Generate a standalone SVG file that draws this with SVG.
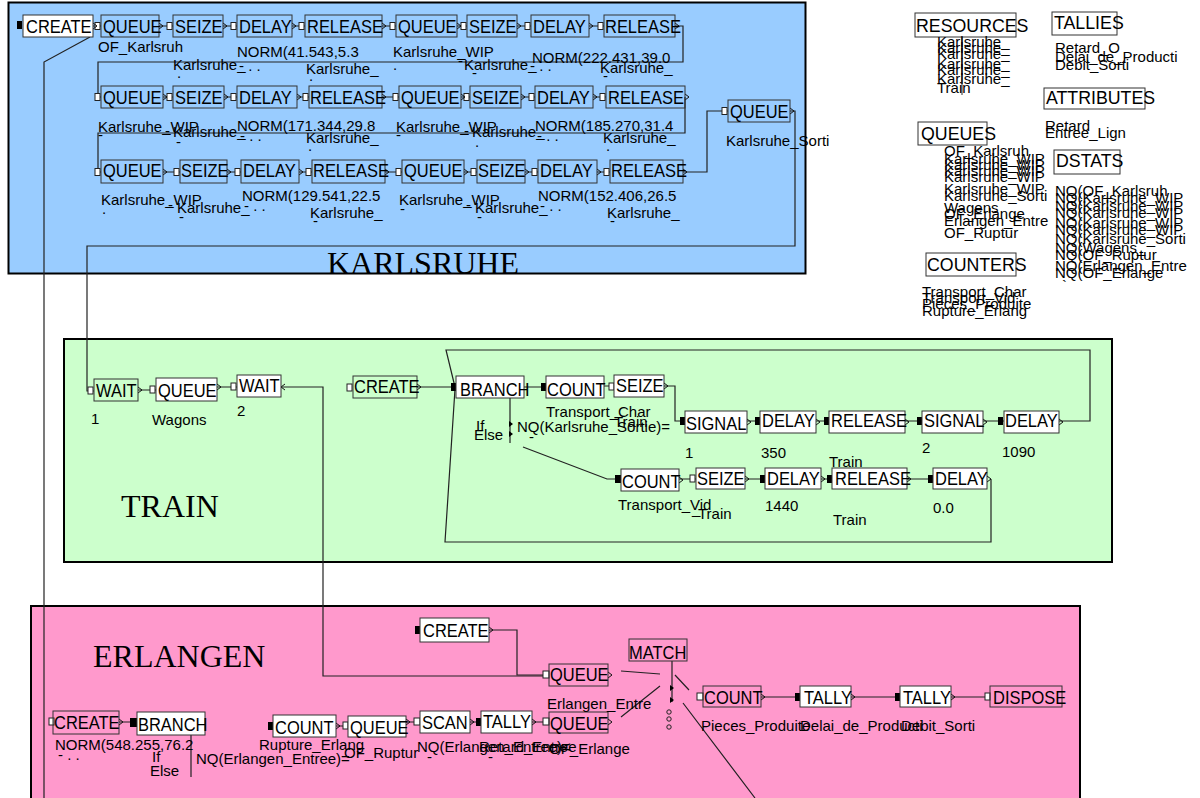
<svg xmlns="http://www.w3.org/2000/svg" width="1200" height="798" viewBox="0 0 1200 798">
<style>
.t{font-family:"Liberation Sans",Arial,sans-serif;font-size:18.5px;fill:#000}
.l{font-family:"Liberation Sans",Arial,sans-serif;font-size:15px;fill:#000}
.big{font-family:"Liberation Serif","Times New Roman",serif;font-size:32px;fill:#000}
.n{fill:none;stroke:#333;stroke-width:1}
.w{fill:#fff;stroke:#333;stroke-width:1}
.c{fill:none;stroke:#222;stroke-width:1.2}
.po{fill:#fff;stroke:#222;stroke-width:1}
.pf{fill:#000}
.ex{fill:none;stroke:#111;stroke-width:1}
.reg{stroke:#000;stroke-width:2}
</style>
<rect width="1200" height="798" fill="#fff"/>
<g id="regions">
<rect class="reg" x="8.5" y="2.5" width="797" height="271" fill="#99CCFF"/>
<rect class="reg" x="64" y="339" width="1048" height="223" fill="#CCFFCC"/>
<rect class="reg" x="31" y="606" width="1049" height="200" fill="#FF99CC"/>
<text class="big" x="327" y="274">KARLSRUHE</text>
<text class="big" x="121" y="517">TRAIN</text>
<text class="big" x="93" y="667">ERLANGEN</text>
</g>
<g id="connectors">
<polyline class="c" points="90,37 44,62 44,798"/>
<path class="c" d="M93,26H101M159,26H173M223,26H237M292,26H305M382,26H396M457,26H467M517,26H531M589,26H604"/>
<polyline class="c" points="675,26 683,26 683,62 98,62 98,97 101,97"/>
<path class="c" d="M163,97H173M224,97H237M297,97H309M382,97H399M461,97H470M521,97H535M593,97H606"/>
<polyline class="c" points="685,97 685,133 98,133 98,172 101,172"/>
<path class="c" d="M163,172H180M227,172H241M299,172H312M385,172H402M464,172H477M525,172H538M597,172H610"/>
<polyline class="c" points="683,172 707,172 707,111 728,111"/>
<polyline class="c" points="790,111 795,111 795,246 87,246 87,391 94,391"/>
<path class="c" d="M138,390H156M217,387H237"/>
<polyline class="c" points="281,387 323,387 323,676 549,676"/>
<path class="c" d="M417,387H456"/>
<polyline class="c" points="455,387 446,350 1090,350 1090,421 1059,421"/>
<polyline class="c" points="455,389 445,542 991,542 991,479"/>
<path class="c" d="M524,387H546M604,386H614"/>
<polyline class="c" points="664,386 675,386 675,421 685,421"/>
<path class="c" d="M747,421H760M816,421H829M905,421H922M983,421H1004"/>
<path class="c" d="M510,398V443M523,447L607,479H621"/>
<path class="c" d="M679,479H696M745,479H765M821,479H832M907,479H933"/>
<polyline class="c" points="489,630 517,630 517,675 549,675"/>
<path class="c" d="M621,671L660,674M621,717L660,686M672,661V702M675,675L689,690M683,703L755,798"/>
<path class="c" d="M761,697H800M851,697H900M951,697H990"/>
<path class="c" d="M119,722H137M191,735V777M336,726H348M406,722H420M470,722H481M532,722H549"/>
</g>
<g id="ports">
<rect class="pf" x="17" y="21" width="5" height="8"/>
<rect class="po" x="95" y="22.5" width="5" height="7"/><rect class="po" x="167" y="22.5" width="5" height="7"/><rect class="po" x="231" y="22.5" width="5" height="7"/><rect class="po" x="299" y="22.5" width="5" height="7"/><rect class="po" x="390" y="22.5" width="5" height="7"/><rect class="po" x="461" y="22.5" width="5" height="7"/><rect class="po" x="525" y="22.5" width="5" height="7"/><rect class="po" x="598" y="22.5" width="5" height="7"/>
<rect class="po" x="95" y="93.5" width="5" height="7"/><rect class="po" x="167" y="93.5" width="5" height="7"/><rect class="po" x="231" y="93.5" width="5" height="7"/><rect class="po" x="303" y="93.5" width="5" height="7"/><rect class="po" x="393" y="93.5" width="5" height="7"/><rect class="po" x="464" y="93.5" width="5" height="7"/><rect class="po" x="529" y="93.5" width="5" height="7"/><rect class="po" x="600" y="93.5" width="5" height="7"/>
<rect class="po" x="95" y="168.5" width="5" height="7"/><rect class="po" x="174" y="168.5" width="5" height="7"/><rect class="po" x="235" y="168.5" width="5" height="7"/><rect class="po" x="306" y="168.5" width="5" height="7"/><rect class="po" x="396" y="168.5" width="5" height="7"/><rect class="po" x="471" y="168.5" width="5" height="7"/><rect class="po" x="532" y="168.5" width="5" height="7"/><rect class="po" x="604" y="168.5" width="5" height="7"/>
<rect class="po" x="722" y="107.5" width="5" height="7"/>
<rect class="po" x="88" y="387" width="5" height="7"/><rect class="po" x="150" y="386" width="5" height="7"/><rect class="po" x="231" y="383" width="5" height="7"/><rect class="po" x="347" y="384" width="5" height="7"/>
<rect class="pf" x="451" y="383" width="5" height="8"/><rect class="pf" x="541" y="383" width="5" height="8"/><rect class="po" x="609" y="383" width="5" height="7"/>
<rect class="pf" x="680" y="417" width="5" height="8"/><rect class="pf" x="755" y="417" width="5" height="8"/><rect class="pf" x="824" y="417" width="5" height="8"/><rect class="pf" x="917" y="417" width="5" height="8"/><rect class="pf" x="998" y="417" width="5" height="8"/>
<rect class="pf" x="615" y="475" width="6" height="8"/><rect class="po" x="690" y="475" width="5" height="7"/><rect class="pf" x="760" y="475" width="5" height="8"/><rect class="pf" x="827" y="475" width="5" height="8"/><rect class="pf" x="928" y="475" width="5" height="8"/>
<rect class="pf" x="415" y="626" width="5" height="8"/><rect class="po" x="543" y="671" width="6" height="7"/><rect class="po" x="697" y="693" width="6" height="7"/><rect class="pf" x="795" y="693" width="5" height="8"/><rect class="pf" x="895" y="693" width="5" height="8"/><rect class="po" x="985" y="693" width="5" height="7"/>
<rect class="po" x="49" y="718" width="5" height="7"/><rect class="pf" x="130" y="718" width="7" height="9"/><rect class="pf" x="268" y="722" width="5" height="8"/><rect class="po" x="343" y="722" width="5" height="7"/><rect class="po" x="414" y="718" width="6" height="7"/><rect class="pf" x="476" y="718" width="5" height="8"/><rect class="po" x="543" y="718" width="6" height="7"/>
<path d="M509,421l4,3l-4,3zM509,431l4,3l-4,3zM670,685l4,3l-4,3zM670,697l4,3l-4,3z" fill="#000"/>
<circle cx="669" cy="712" r="2.2" fill="none" stroke="#222"/><circle cx="669" cy="719" r="2.2" fill="none" stroke="#222"/><circle cx="669" cy="727" r="2.2" fill="none" stroke="#222"/>
<path class="ex" d="M93,23l4,3l-4,3M159,23l4,3l-4,3M223,23l4,3l-4,3M292,23l4,3l-4,3M382,23l4,3l-4,3M457,23l4,3l-4,3M517,23l4,3l-4,3M589,23l4,3l-4,3M675,23l4,3l-4,3M163,94l4,3l-4,3M224,94l4,3l-4,3M297,94l4,3l-4,3M382,94l4,3l-4,3M461,94l4,3l-4,3M521,94l4,3l-4,3M593,94l4,3l-4,3M685,94l4,3l-4,3M163,169l4,3l-4,3M227,169l4,3l-4,3M299,169l4,3l-4,3M385,169l4,3l-4,3M464,169l4,3l-4,3M525,169l4,3l-4,3M597,169l4,3l-4,3M683,169l4,3l-4,3M790,108l4,3l-4,3M138,387l4,3l-4,3M217,384l4,3l-4,3M285,384l-4,3l4,3M417,384l4,3l-4,3M664,383l4,3l-4,3M747,419l4,3l-4,3M816,419l4,3l-4,3M905,419l4,3l-4,3M983,419l4,3l-4,3M1059,419l4,3l-4,3M679,477l4,3l-4,3M745,476l4,3l-4,3M821,476l4,3l-4,3M907,476l4,3l-4,3M987,476l4,3l-4,3M489,627l4,3l-4,3M608,672l4,3l-4,3M761,694l4,3l-4,3M851,694l4,3l-4,3M951,694l4,3l-4,3M119,719l4,3l-4,3M336,723l4,3l-4,3M406,719l4,3l-4,3M470,719l4,3l-4,3M532,719l4,3l-4,3M608,719l4,3l-4,3"/>
</g>
<g id="karlsruhe">
<g id="k_create"><rect class="w" x="23" y="15" width="70" height="22"/><text class="t" transform="translate(26,32.5) scale(0.89,1)">CREATE</text></g>
<g id="k_queue1"><rect class="n" x="101" y="15" width="58" height="22"/><text class="t" transform="translate(103,32.5) scale(0.89,1)">QUEUE</text></g>
<g id="k_seize1"><rect class="n" x="173" y="15" width="50" height="22"/><text class="t" transform="translate(175,32.5) scale(0.89,1)">SEIZE</text></g>
<g id="k_delay1"><rect class="n" x="237" y="15" width="55" height="22"/><text class="t" transform="translate(239,32.5) scale(0.89,1)">DELAY</text></g>
<g id="k_release1"><rect class="n" x="305" y="15" width="77" height="22"/><text class="t" transform="translate(307,32.5) scale(0.89,1)">RELEASE</text></g>
<g id="k_queue2"><rect class="n" x="396" y="15" width="61" height="22"/><text class="t" transform="translate(398,32.5) scale(0.89,1)">QUEUE</text></g>
<g id="k_seize2"><rect class="n" x="467" y="15" width="50" height="22"/><text class="t" transform="translate(469,32.5) scale(0.89,1)">SEIZE</text></g>
<g id="k_delay2"><rect class="n" x="531" y="15" width="58" height="22"/><text class="t" transform="translate(533,32.5) scale(0.89,1)">DELAY</text></g>
<g id="k_release2"><rect class="n" x="604" y="15" width="71" height="22"/><text class="t" transform="translate(605,32.5) scale(0.89,1)">RELEASE</text></g>
<g id="k_queue3"><rect class="n" x="101" y="86" width="62" height="22"/><text class="t" transform="translate(103,103.5) scale(0.89,1)">QUEUE</text></g>
<g id="k_seize3"><rect class="n" x="173" y="86" width="51" height="22"/><text class="t" transform="translate(175,103.5) scale(0.89,1)">SEIZE</text></g>
<g id="k_delay3"><rect class="n" x="237" y="86" width="60" height="22"/><text class="t" transform="translate(239,103.5) scale(0.89,1)">DELAY</text></g>
<g id="k_release3"><rect class="n" x="309" y="86" width="73" height="22"/><text class="t" transform="translate(310,103.5) scale(0.89,1)">RELEASE</text></g>
<g id="k_queue4"><rect class="n" x="399" y="86" width="62" height="22"/><text class="t" transform="translate(401,103.5) scale(0.89,1)">QUEUE</text></g>
<g id="k_seize4"><rect class="n" x="470" y="86" width="51" height="22"/><text class="t" transform="translate(472,103.5) scale(0.89,1)">SEIZE</text></g>
<g id="k_delay4"><rect class="n" x="535" y="86" width="58" height="22"/><text class="t" transform="translate(537,103.5) scale(0.89,1)">DELAY</text></g>
<g id="k_release4"><rect class="n" x="606" y="86" width="79" height="22"/><text class="t" transform="translate(608,103.5) scale(0.89,1)">RELEASE</text></g>
<g id="k_queue5"><rect class="n" x="101" y="160" width="62" height="23"/><text class="t" transform="translate(103,177) scale(0.89,1)">QUEUE</text></g>
<g id="k_seize5"><rect class="n" x="180" y="160" width="47" height="23"/><text class="t" transform="translate(181,177) scale(0.89,1)">SEIZE</text></g>
<g id="k_delay5"><rect class="n" x="241" y="160" width="58" height="23"/><text class="t" transform="translate(243,177) scale(0.89,1)">DELAY</text></g>
<g id="k_release5"><rect class="n" x="312" y="160" width="73" height="23"/><text class="t" transform="translate(313,177) scale(0.89,1)">RELEASE</text></g>
<g id="k_queue6"><rect class="n" x="402" y="160" width="62" height="23"/><text class="t" transform="translate(404,177) scale(0.89,1)">QUEUE</text></g>
<g id="k_seize6"><rect class="n" x="477" y="160" width="48" height="23"/><text class="t" transform="translate(478,177) scale(0.89,1)">SEIZE</text></g>
<g id="k_delay6"><rect class="n" x="538" y="160" width="59" height="23"/><text class="t" transform="translate(540,177) scale(0.89,1)">DELAY</text></g>
<g id="k_release6"><rect class="n" x="610" y="160" width="73" height="23"/><text class="t" transform="translate(611,177) scale(0.89,1)">RELEASE</text></g>
<g id="k_sorti"><rect class="n" x="728" y="100" width="62" height="22"/><text class="t" transform="translate(730,117.5) scale(0.89,1)">QUEUE</text></g>
</g>
<g id="karlsruhe_labels">
<text class="l" x="98" y="52">OF_Karlsruh</text>
<text class="l" x="173" y="70">Karlsruhe_</text><text class="l" x="177" y="78">.</text>
<text class="l" x="237" y="57">NORM(41.543,5.3</text><text class="l" x="239" y="71">- . .</text>
<text class="l" x="306" y="74">Karlsruhe_</text><text class="l" x="309" y="81">.</text>
<text class="l" x="393" y="57">Karlsruhe_WIP</text><text class="l" x="393" y="70">.</text>
<text class="l" x="458" y="66">-</text><text class="l" x="464" y="70">Karlsruhe_</text><text class="l" x="472" y="78">-</text><text class="l" x="530" y="71">- . .</text>
<text class="l" x="532" y="63">NORM(222.431,39.0</text>
<text class="l" x="600" y="73">Karlsruhe_</text><text class="l" x="603" y="81">-</text>
<text class="l" x="98" y="132">Karlsruhe_WIP</text><text class="l" x="98" y="140">-</text>
<text class="l" x="165" y="136">-</text><text class="l" x="173" y="137">Karlsruhe_</text><text class="l" x="176" y="147">-</text>
<text class="l" x="237" y="131">NORM(171.344,29.8</text><text class="l" x="240" y="141">- . .</text>
<text class="l" x="306" y="143">Karlsruhe_</text><text class="l" x="308" y="151">.</text>
<text class="l" x="396" y="132">Karlsruhe_WIP</text><text class="l" x="396" y="140">-</text>
<text class="l" x="464" y="136">-</text><text class="l" x="472" y="137">Karlsruhe_</text><text class="l" x="475" y="147">.</text>
<text class="l" x="535" y="131">NORM(185.270,31.4</text><text class="l" x="537" y="141">- . .</text>
<text class="l" x="603" y="143">Karlsruhe_</text><text class="l" x="606" y="151">.</text>
<text class="l" x="101" y="205">Karlsruhe_WIP</text><text class="l" x="102" y="214">.</text>
<text class="l" x="168" y="210">-</text><text class="l" x="177" y="213">Karlsruhe_</text><text class="l" x="179" y="222">-</text>
<text class="l" x="242" y="201">NORM(129.541,22.5</text><text class="l" x="244" y="211">- . .</text>
<text class="l" x="310" y="218">Karlsruhe_</text><text class="l" x="313" y="226">-</text>
<text class="l" x="399" y="205">Karlsruhe_WIP</text><text class="l" x="400" y="214">-</text>
<text class="l" x="466" y="210">-</text><text class="l" x="475" y="213">Karlsruhe_</text><text class="l" x="477" y="222">-</text>
<text class="l" x="538" y="201">NORM(152.406,26.5</text><text class="l" x="540" y="211">- . .</text>
<text class="l" x="607" y="218">Karlsruhe_</text><text class="l" x="610" y="226">-</text>
<text class="l" x="726" y="146">Karlsruhe_Sorti</text>
</g>
<g id="lists">
<g id="resources"><rect class="n" x="915" y="13" width="101" height="24"/><text class="t" transform="translate(916,32) scale(0.96,1)">RESOURCES</text>
<line x1="962" y1="37" x2="962" y2="95" stroke="#333"/>
<text class="l" x="937" y="47">Karlsruhe_</text><text class="l" x="937" y="53">Karlsruhe_</text><text class="l" x="937" y="59">Karlsruhe_</text><text class="l" x="937" y="69">Karlsruhe_</text><text class="l" x="937" y="75">Karlsruhe_</text><text class="l" x="937" y="84">Karlsruhe_</text><text class="l" x="937" y="93">Train</text></g>
<g id="tallies"><rect class="n" x="1052" y="12" width="65" height="23"/><text class="t" transform="translate(1054,29) scale(0.96,1)">TALLIES</text>
<text class="l" x="1055" y="53">Retard_O</text><text class="l" x="1055" y="62">Delai_de_Producti</text><text class="l" x="1055" y="70">Debit_Sorti</text></g>
<g id="attributes"><rect class="n" x="1044" y="88" width="101" height="21"/><text class="t" transform="translate(1046,104) scale(0.96,1)">ATTRIBUTES</text>
<text class="l" x="1045" y="131">Retard</text><text class="l" x="1045" y="138">Entree_Lign</text></g>
<g id="queues"><rect class="n" x="918" y="122" width="69" height="23"/><text class="t" transform="translate(921,140) scale(0.96,1)">QUEUES</text>
<text class="l" x="944" y="156">OF_Karlsruh</text><text class="l" x="944" y="164">Karlsruhe_WIP</text><text class="l" x="944" y="170">Karlsruhe_WIP</text><text class="l" x="944" y="176">Karlsruhe_WIP</text><text class="l" x="944" y="182">Karlsruhe_WIP</text><text class="l" x="944" y="194">Karlsruhe_WIP</text><text class="l" x="944" y="201">Karlsruhe_Sorti</text><text class="l" x="944" y="213">Wagens</text><text class="l" x="944" y="219">OF_Erlange</text><text class="l" x="944" y="226">Erlangen_Entre</text><text class="l" x="944" y="238">OF_Ruptur</text></g>
<g id="dstats"><rect class="n" x="1054" y="150" width="66" height="24"/><text class="t" transform="translate(1056,167) scale(0.96,1)">DSTATS</text>
<text class="l" x="1055" y="196">NQ(OF_Karlsruh</text><text class="l" x="1055" y="203">NQ(Karlsruhe_WIP</text><text class="l" x="1055" y="211">NQ(Karlsruhe_WIP</text><text class="l" x="1055" y="218">NQ(Karlsruhe_WIP</text><text class="l" x="1055" y="228">NQ(Karlsruhe_WIP</text><text class="l" x="1055" y="235">NQ(Karlsruhe_WIP</text><text class="l" x="1055" y="244">NQ(Karlsruhe_Sorti</text><text class="l" x="1055" y="253">NQ(Wagens_</text><text class="l" x="1055" y="260">NQ(OF_Ruptur</text><text class="l" x="1055" y="271">NQ(Erlangen_Entre</text><text class="l" x="1055" y="278">NQ(OF_Erlange</text><text class="l" x="1062" y="291">`</text></g>
<g id="counters"><rect class="n" x="926" y="253" width="90" height="23"/><text class="t" transform="translate(927,271) scale(0.96,1)">COUNTERS</text>
<text class="l" x="922" y="297">Transport_Char</text><text class="l" x="922" y="303">Transport_Vid</text><text class="l" x="922" y="309">Pieces_Produite</text><text class="l" x="922" y="316">Rupture_Erlang</text></g>
</g>
<g id="train">
<g id="t_wait1"><rect class="n" x="94" y="379" width="44" height="22"/><text class="t" transform="translate(96,397) scale(0.89,1)">WAIT</text></g>
<g id="t_queue"><rect class="w" x="156" y="378" width="61" height="23"/><text class="t" transform="translate(158,397) scale(0.89,1)">QUEUE</text></g>
<g id="t_wait2"><rect class="w" x="237" y="375" width="44" height="22"/><text class="t" transform="translate(239,392) scale(0.89,1)">WAIT</text></g>
<g id="t_create"><rect class="n" x="353" y="376" width="64" height="22"/><text class="t" transform="translate(354,393) scale(0.89,1)">CREATE</text></g>
<g id="t_branch"><rect class="w" x="456" y="376" width="68" height="22"/><text class="t" transform="translate(460,396) scale(0.89,1)">BRANCH</text></g>
<g id="t_count1"><rect class="w" x="546" y="376" width="58" height="22"/><text class="t" transform="translate(547,396) scale(0.89,1)">COUNT</text></g>
<g id="t_seize1"><rect class="w" x="614" y="375" width="50" height="22"/><text class="t" transform="translate(616,392) scale(0.89,1)">SEIZE</text></g>
<g id="t_signal1"><rect class="w" x="685" y="411" width="62" height="22"/><text class="t" transform="translate(686,430) scale(0.89,1)">SIGNAL</text></g>
<g id="t_delay1"><rect class="w" x="760" y="411" width="56" height="22"/><text class="t" transform="translate(762,427) scale(0.89,1)">DELAY</text></g>
<g id="t_release1"><rect class="w" x="829" y="411" width="76" height="22"/><text class="t" transform="translate(831,427) scale(0.89,1)">RELEASE</text></g>
<g id="t_signal2"><rect class="w" x="922" y="411" width="61" height="22"/><text class="t" transform="translate(924,427) scale(0.89,1)">SIGNAL</text></g>
<g id="t_delay2"><rect class="w" x="1004" y="411" width="55" height="22"/><text class="t" transform="translate(1005,427) scale(0.89,1)">DELAY</text></g>
<g id="t_count2"><rect class="w" x="621" y="469" width="58" height="22"/><text class="t" transform="translate(622,488) scale(0.89,1)">COUNT</text></g>
<g id="t_seize2"><rect class="w" x="696" y="468" width="49" height="21"/><text class="t" transform="translate(697,485) scale(0.89,1)">SEIZE</text></g>
<g id="t_delay3"><rect class="w" x="765" y="468" width="56" height="21"/><text class="t" transform="translate(767,485) scale(0.89,1)">DELAY</text></g>
<g id="t_release2"><rect class="w" x="832" y="468" width="75" height="21"/><text class="t" transform="translate(835,485) scale(0.89,1)">RELEASE</text></g>
<g id="t_delay4"><rect class="w" x="933" y="468" width="54" height="21"/><text class="t" transform="translate(935,485) scale(0.89,1)">DELAY</text></g>
</g>
<g id="train_labels">
<text class="l" x="91" y="424">1</text><text class="l" x="152" y="425">Wagons</text><text class="l" x="237" y="416">2</text>
<text class="l" x="546" y="417">Transport_Char</text><text class="l" x="614" y="427">Train</text>
<text class="l" x="476" y="431">If</text><text class="l" x="474" y="440">Else</text>
<text class="l" x="517" y="432">NQ(Karlsruhe_Sortie)=</text><text class="l" x="529" y="442">-</text>
<text class="l" x="685" y="458">1</text><text class="l" x="761" y="458">350</text><text class="l" x="829" y="467">Train</text><text class="l" x="922" y="453">2</text><text class="l" x="1002" y="457">1090</text>
<text class="l" x="618" y="510">Transport_Vid</text><text class="l" x="692" y="514">_</text><text class="l" x="698" y="519">Train</text><text class="l" x="765" y="511">1440</text><text class="l" x="833" y="525">Train</text><text class="l" x="933" y="513">0.0</text>
</g>
<g id="erlangen">
<g id="e_create1"><rect class="w" x="420" y="618" width="69" height="24"/><text class="t" transform="translate(423,637) scale(0.89,1)">CREATE</text></g>
<g id="e_queue1"><rect class="n" x="549" y="664" width="59" height="22"/><text class="t" transform="translate(550,681) scale(0.89,1)">QUEUE</text></g>
<g id="e_match"><rect class="n" x="629" y="639" width="58" height="22"/><text class="t" transform="translate(629,659) scale(0.89,1)">MATCH</text></g>
<g id="e_count"><rect class="n" x="703" y="686" width="58" height="21"/><text class="t" transform="translate(704,704) scale(0.89,1)">COUNT</text></g>
<g id="e_tally1"><rect class="w" x="800" y="686" width="51" height="21"/><text class="t" transform="translate(804,704) scale(0.89,1)">TALLY</text></g>
<g id="e_tally2"><rect class="w" x="900" y="686" width="51" height="21"/><text class="t" transform="translate(903,704) scale(0.89,1)">TALLY</text></g>
<g id="e_dispose"><rect class="n" x="990" y="686" width="72" height="21"/><text class="t" transform="translate(993,704) scale(0.89,1)">DISPOSE</text></g>
<g id="e_create2"><rect class="n" x="53" y="711" width="66" height="23"/><text class="t" transform="translate(54,729) scale(0.89,1)">CREATE</text></g>
<g id="e_branch"><rect class="w" x="137" y="712" width="68" height="23"/><text class="t" transform="translate(138,731) scale(0.89,1)">BRANCH</text></g>
<g id="e_count2"><rect class="w" x="273" y="715" width="63" height="22"/><text class="t" transform="translate(275,734) scale(0.89,1)">COUNT</text></g>
<g id="e_queue2"><rect class="w" x="348" y="716" width="58" height="21"/><text class="t" transform="translate(350,734) scale(0.89,1)">QUEUE</text></g>
<g id="e_scan"><rect class="w" x="420" y="711" width="50" height="22"/><text class="t" transform="translate(422,729) scale(0.89,1)">SCAN</text></g>
<g id="e_tally3"><rect class="w" x="481" y="711" width="51" height="22"/><text class="t" transform="translate(483,728) scale(0.89,1)">TALLY</text></g>
<g id="e_queue3"><rect class="n" x="549" y="712" width="59" height="21"/><text class="t" transform="translate(550,730) scale(0.89,1)">QUEUE</text></g>
</g>
<g id="erlangen_labels">
<text class="l" x="547" y="709">Erlangen_Entre</text><text class="l" x="549" y="754">OF_Erlange</text>
<text class="l" x="701" y="731">Pieces_Produite</text><text class="l" x="800" y="731">Delai_de_Producti</text><text class="l" x="901" y="731">Debit_Sorti</text>
<text class="l" x="55" y="750">NORM(548.255,76.2</text><text class="l" x="58" y="760">- . .</text>
<text class="l" x="152" y="762">If</text><text class="l" x="150" y="776">Else</text>
<text class="l" x="196" y="764">NQ(Erlangen_Entree)=</text>
<text class="l" x="259" y="750">Rupture_Erlang</text><text class="l" x="344" y="758">OF_Ruptur</text>
<text class="l" x="417" y="752">NQ(Erlangen_Entree)&lt;</text><text class="l" x="479" y="752">Retard_Entree</text>
<text class="l" x="427" y="762">-</text><text class="l" x="488" y="762">-</text>
</g>
</svg>
